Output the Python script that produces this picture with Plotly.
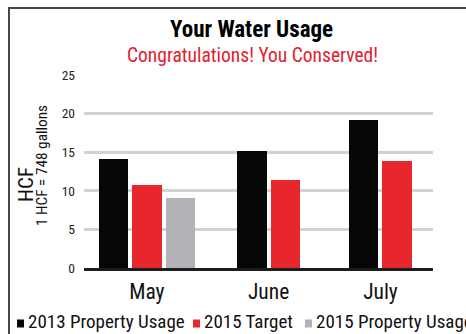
import plotly.graph_objects as go

# --- data -------------------------------------------------------------
months = ["May", "June", "July"]
series_names = ["2013 Property Usage", "2015 Target", "2015 Property Usage"]
usage_2013 = [14.1, 15.1, 19.2]
target_2015 = [10.7, 11.4, 13.8]
usage_2015 = [9.1, None, None]
y_ticks = [0, 5, 10, 15, 20, 25]

series_values = [usage_2013, target_2015, usage_2015]
colors = ["#060606", "#e8262e", "#b1b3b6"]

# --- layout constants -------------------------------------------------
W, H = 466, 334
L, R, T, B = 84, 33, 75, 66          # plot-area margins in px
PW, PH = W - L - R, H - T - B
SLOT = 33.5                          # px per bar slot
X_MAX = PW / SLOT                    # x-axis range in slot units
GROUP_CENTERS = [1.875, 5.51, 8.85]  # month group centres in slot units
BAR_W = 0.88

FONT = "Roboto Condensed, Arial Narrow, Liberation Sans, Arial, sans-serif"


def pxx(x):
    return (x - L) / PW


def pxy(y):
    return (H - B - y) / PH


# bars of each month are centred on the month, only counting present series
positions = [[None] * len(months) for _ in series_values]
for m in range(len(months)):
    present = [s for s, vals in enumerate(series_values) if vals[m] is not None]
    n = len(present)
    for i, s in enumerate(present):
        positions[s][m] = GROUP_CENTERS[m] + (i - (n - 1) / 2)

fig = go.Figure()
for name, vals, pos, col in zip(series_names, series_values, positions, colors):
    xs = [p for p, v in zip(pos, vals) if v is not None]
    ys = [v for v in vals if v is not None]
    fig.add_trace(go.Bar(x=xs, y=ys, name=name, width=BAR_W,
                         marker=dict(color=col, line=dict(width=0)),
                         showlegend=False))

annotations = [
    dict(text="<b>Your Water Usage</b>", x=pxx(251), y=pxy(29),
         font=dict(size=23, color="#000000", family=FONT)),
    dict(text="Congratulations! You Conserved!", x=pxx(252), y=pxy(55),
         font=dict(size=19.5, color="#e3202c", family=FONT)),
    dict(text="HCF", x=pxx(26), y=pxy(185), textangle=-90,
         font=dict(size=21, color="#111111", family=FONT)),
    dict(text="1 HCF = 748 gallons", x=pxx(42), y=pxy(166), textangle=-90,
         font=dict(size=15.3, color="#111111", family=FONT)),
]

shapes = [dict(type="rect", xref="paper", yref="paper",
               x0=pxx(9), y0=pxy(400), x1=pxx(560), y1=pxy(8),
               line=dict(color="#474747", width=2), layer="above")]

# legend row along the bottom: a small swatch followed by the series name
legend_x = [17, 193, 305]
for name, col, lx in zip(series_names, colors, legend_x):
    shapes.append(dict(type="rect", xref="paper", yref="paper",
                       x0=pxx(lx), x1=pxx(lx + 7), y0=pxy(327.5), y1=pxy(319.5),
                       fillcolor=col, line=dict(width=0)))
    annotations.append(dict(text=name, x=pxx(lx + 9), y=pxy(321), xanchor="left",
                            font=dict(size=19, color="#111111", family=FONT)))

for a in annotations:
    a.setdefault("xanchor", "center")
    a.update(xref="paper", yref="paper", yanchor="middle", showarrow=False)

fig.update_layout(
    width=W, height=H,
    margin=dict(l=L, r=R, t=T, b=B, pad=0),
    paper_bgcolor="white", plot_bgcolor="white",
    bargap=0, barmode="overlay",
    annotations=annotations,
    shapes=shapes,
    xaxis=dict(range=[0, X_MAX], tickvals=GROUP_CENTERS, ticktext=months,
               showgrid=False, zeroline=False, showline=True,
               linecolor="#1e1e1e", linewidth=3, ticks="",
               ticklabelstandoff=2,
               tickfont=dict(size=21.5, color="#111111", family=FONT)),
    yaxis=dict(range=[0, 25], tickvals=y_ticks, showgrid=True,
               gridcolor="#d2d2d4", gridwidth=3, zeroline=False,
               showline=False, ticks="", ticklabelstandoff=8,
               tickfont=dict(size=13.5, color="#222222", family=FONT)),
)

fig.write_html("out.html")
